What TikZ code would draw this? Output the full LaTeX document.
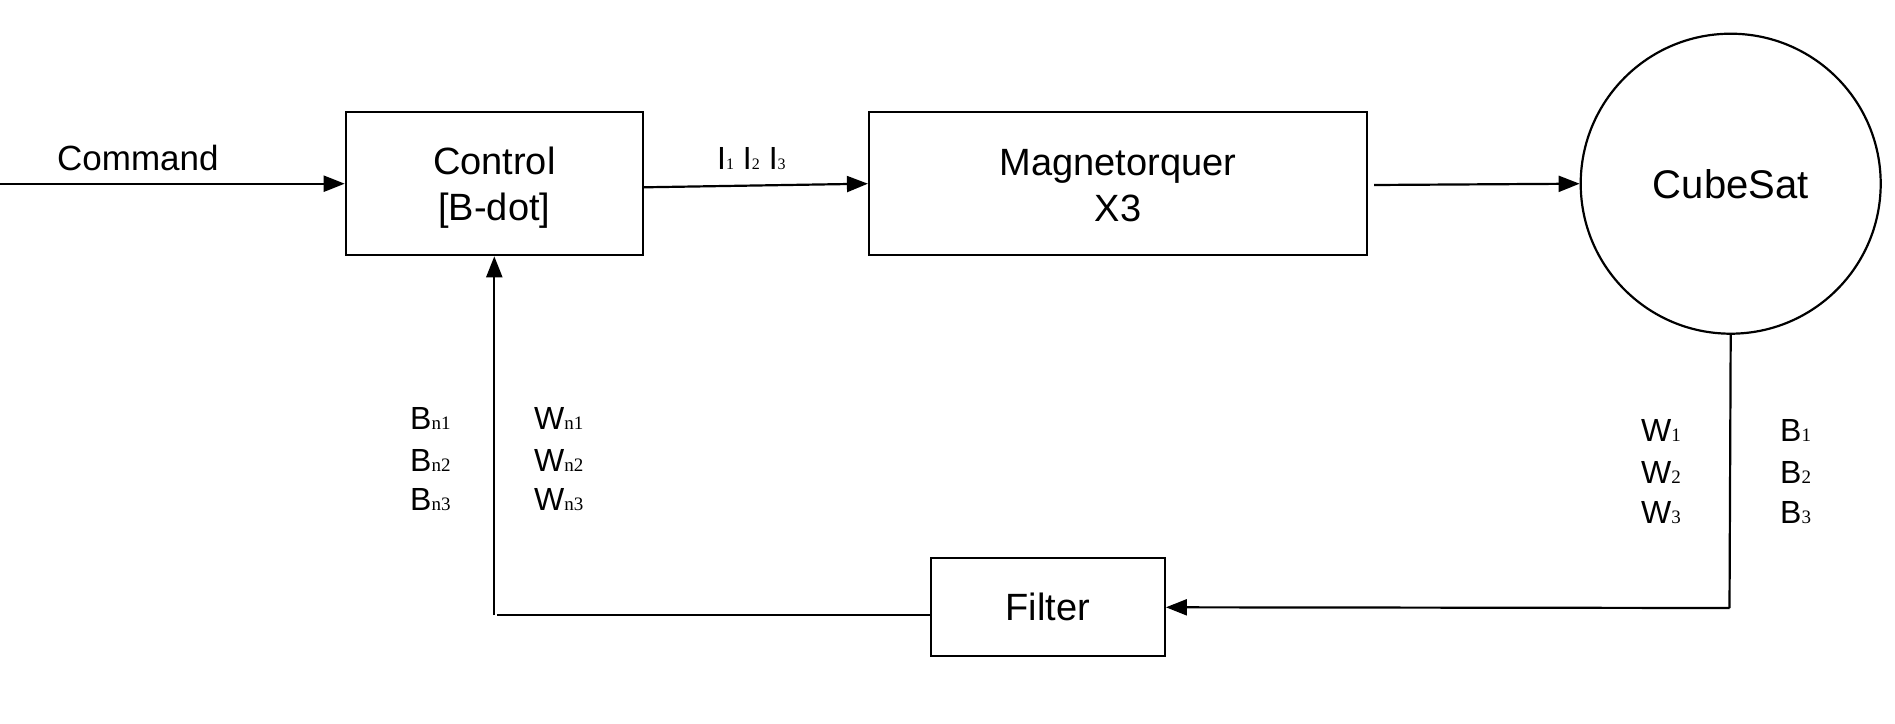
\documentclass[tikz,border=0pt]{standalone}
\usepackage{fontspec}
\setmainfont{Liberation Sans}
\newfontfamily\serifs{Liberation Serif}
\usetikzlibrary{arrows.meta}
\newcommand{\smallsub}[1]{{\serifs\fontsize{19}{19}\selectfont #1}}
\newcommand{\tinysub}[1]{{\serifs\fontsize{16}{16}\selectfont #1}}
\tikzset{
  blk/.style={draw=black, line width=2.2pt, rectangle, inner sep=0pt, align=center, font=\fontsize{38}{46}\selectfont},
  arr/.style={line width=2.2pt, -{Triangle[length=21pt,width=16pt]}},
  ln/.style={line width=2.2pt},
  lbl/.style={inner sep=0pt, anchor=west, font=\fontsize{32}{32}\selectfont},
}
\begin{document}
\begin{tikzpicture}[x=1pt,y=-1pt]
\useasboundingbox (0,0) rectangle (1895,723);
\node[blk, minimum width=297pt, minimum height=143pt] (ctrl) at (494.3,183.7) {};
\node[blk, minimum width=498pt, minimum height=143pt] (mag) at (1118,183.7) {};
\node[blk, circle, minimum size=300pt, font=\fontsize{40}{48}\selectfont] (cube) at (1730.7,183.7) {CubeSat};
\node[blk, minimum width=234pt, minimum height=98pt] (filt) at (1047.8,607.3) {Filter};
\node[align=center, inner sep=0pt, font=\fontsize{38}{46}\selectfont] (ctrltxt) at ([yshift=-4pt]ctrl.center) {Control\\{[B-dot]}};
\node[align=center, inner sep=0pt, font=\fontsize{38}{46}\selectfont] (magtxt) at ([yshift=-2pt]mag.center) {Magnetorquer\\X3};

\coordinate (cmd) at (0,183.7);
\coordinate (c1) at (1729.5,608);
\coordinate (c2) at (494.3,615);

\draw[arr] (cmd) -- (ctrl.west);
\draw[arr] ([yshift=-3.6pt]ctrl.east) -- (mag.west);
\draw[arr] ([xshift=6pt,yshift=-1.3pt]mag.east) -- (cube.west);
\draw[ln] (cube.south) -- (c1);
\draw[arr] (c1) -- (filt.east);
\draw[ln] ([yshift=-7.7pt]filt.west) -- ([xshift=3pt]c2);
\draw[arr] (c2) -- (ctrl.south);

\node[lbl, font=\fontsize{35}{35}\selectfont] (lcmd) at (57,158.3) {Command};
\node[lbl] (li) at (717,158.3) {I\tinysub{1} I\tinysub{2} I\tinysub{3}};

\node[lbl] (bn1) at (410,418) {B\smallsub{n1}};
\node[lbl] (bn2) at (410,460.5) {B\smallsub{n2}};
\node[lbl] (bn3) at (410,500) {B\smallsub{n3}};
\node[lbl] (wn1) at (534,418) {W\smallsub{n1}};
\node[lbl] (wn2) at (534,460.5) {W\smallsub{n2}};
\node[lbl] (wn3) at (534,500) {W\smallsub{n3}};

\node[lbl] (w1) at (1641,430) {W\smallsub{1}};
\node[lbl] (w2) at (1641,472.6) {W\smallsub{2}};
\node[lbl] (w3) at (1641,512.5) {W\smallsub{3}};
\node[lbl] (b1) at (1780,430) {B\smallsub{1}};
\node[lbl] (b2) at (1780,472.6) {B\smallsub{2}};
\node[lbl] (b3) at (1780,512.5) {B\smallsub{3}};
\end{tikzpicture}
\end{document}
